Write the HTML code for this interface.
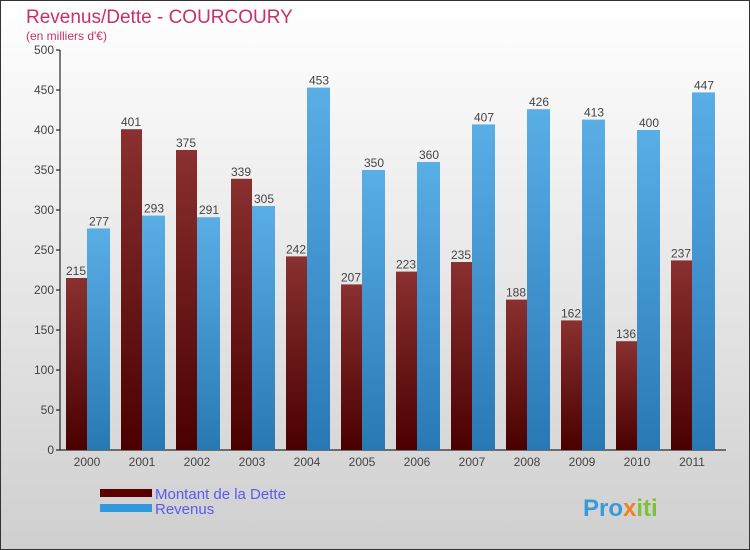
<!DOCTYPE html>
<html><head><meta charset="utf-8"><style>
body{margin:0}
#c{width:750px;height:550px;position:relative;box-sizing:border-box;border:1px solid #333;background:linear-gradient(#fff,#cfcfcf);font-family:"Liberation Sans",sans-serif;overflow:hidden}
</style></head><body>
<div id="c">
<svg width="750" height="550" style="position:absolute;left:-1px;top:-1px">
<defs>
<linearGradient id="gd" x1="0" y1="0" x2="0" y2="1"><stop offset="0" stop-color="#8a3030"/><stop offset="1" stop-color="#4a0000"/></linearGradient>
<linearGradient id="gr" x1="0" y1="0" x2="0" y2="1"><stop offset="0" stop-color="#5aaee6"/><stop offset="1" stop-color="#2878b4"/></linearGradient>
</defs>
<text x="26" y="23" font-size="19" fill="#c8306a">Revenus/Dette - COURCOURY</text>
<text x="26" y="40" font-size="12" fill="#c8306a">(en milliers d'€)</text>
<g id="axes"></g>
<g id="bars"></g>
<rect x="100" y="489" width="52" height="8" fill="#5a0000"/>
<text x="155" y="499" font-size="15" fill="#5a5af0">Montant de la Dette</text>
<rect x="100" y="504" width="52" height="8" fill="#3399dd"/>
<text x="155" y="514" font-size="15" fill="#5a5af0">Revenus</text>
<text x="583" y="516" font-size="24" font-weight="bold" fill="#3a9ad9">Pro<tspan fill="#f08020">x</tspan><tspan fill="#80c040">iti</tspan></text>
</svg>
</div>
<script>
const years=["2000","2001","2002","2003","2004","2005","2006","2007","2008","2009","2010","2011"];
const dette=[215,401,375,339,242,207,223,235,188,162,136,237];
const revenus=[277,293,291,305,453,350,360,407,426,413,400,447];
const ticks=[0,50,100,150,200,250,300,350,400,450,500];
const NS="http://www.w3.org/2000/svg";
const y=v=>450-v*0.8, x=i=>66+55*i;
function mk(t,a,p){const e=document.createElementNS(NS,t);for(const k in a)e.setAttribute(k,a[k]);p.appendChild(e);return e;}
const ax=document.getElementById('axes'), bg=document.getElementById('bars');
const yl=mk('line',{x1:60,y1:50,x2:60,y2:450,stroke:'#000'},ax);


const xl=mk('line',{x1:60,y1:450,x2:726,y2:450,stroke:'#000'},ax);


ticks.forEach(t=>{
 mk('line',{x1:56,y1:y(t),x2:60,y2:y(t),stroke:'#000'},ax);
 const tx=mk('text',{x:54,y:y(t)+4,'font-size':12,fill:'#444','text-anchor':'end'},ax);
 tx.textContent=t;
 
 
});
years.forEach((yr,i)=>{
 const tl=mk('text',{x:x(i)+21,y:466,'font-size':12,fill:'#444','text-anchor':'middle'},ax);
 tl.textContent=yr;
 
 
 const d=mk('rect',{x:x(i),y:y(dette[i]),width:21,height:dette[i]*0.8,fill:'url(#gd)'},bg);
 
 
 const r=mk('rect',{x:x(i)+21,y:y(revenus[i]),width:23,height:revenus[i]*0.8,fill:'url(#gr)'},bg);
 
 
 const dl=mk('text',{x:x(i)+10,y:y(dette[i])-3,'font-size':12,fill:'#444','text-anchor':'middle'},bg);
 dl.textContent=dette[i];
 
 
 const rl=mk('text',{x:x(i)+33,y:y(revenus[i])-3,'font-size':12,fill:'#444','text-anchor':'middle'},bg);
 rl.textContent=revenus[i];
 
 
});
</script>
</body></html>
